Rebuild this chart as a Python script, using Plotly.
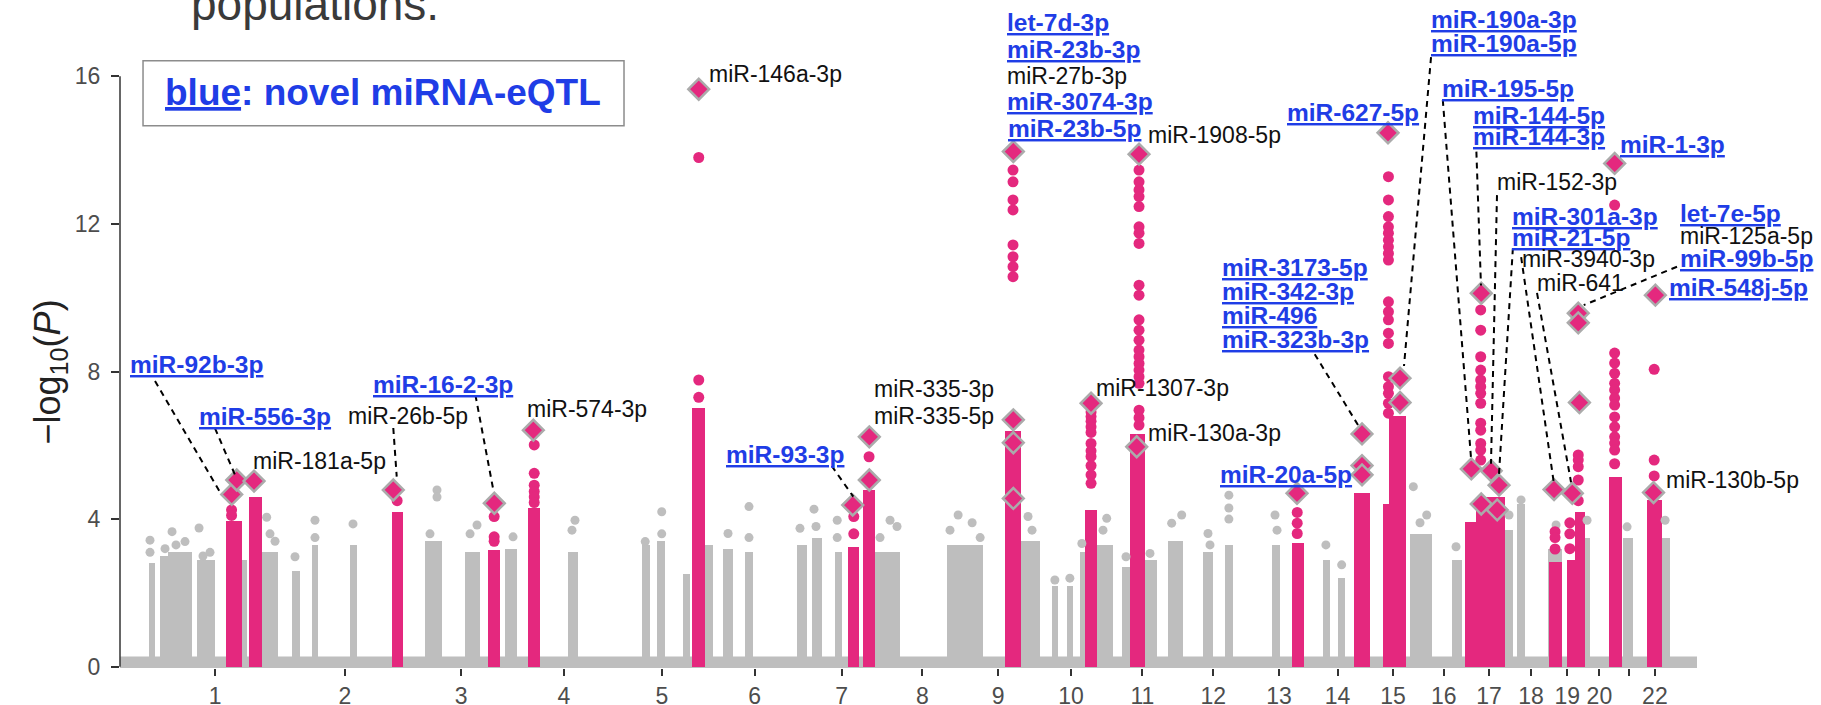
import plotly.graph_objects as go

# ---------------- data (positions in genome-wide cumulative Mb, hg19) ----------------
chrom_labels = [str(i) for i in range(1, 23)]
chrom_len_mb = [249.25, 243.20, 198.02, 191.15, 180.92, 171.12, 159.14, 146.36, 141.21, 135.53, 135.01,
                133.85, 115.17, 107.35, 102.53, 90.35, 81.20, 78.08, 59.13, 63.03, 48.13, 51.30]

# dense gray (non-significant) SNP columns: start, end (Mb), dense top (-log10 P)
gray_start = [0, 20.3, 35.5, 58.3, 89.9, 105.6, 175.2, 213.2, 270, 308, 380.6, 522.9, 598.7, 674.6, 794.6,
              933.8, 962.3, 1012.7, 1053.9, 1088.6, 1129.7, 1227.8, 1256.2, 1300.4, 1376.3, 1512.2, 1652.6,
              1711.4, 1739.8, 1765.1, 1796.8, 1844.2, 1888.4, 1931.7, 1998.4, 2040.1, 2128.6, 2225.4, 2254.9,
              2391, 2470, 2571.1, 2594.4, 2652.7, 2722.7, 2794.3, 2868.3]
gray_end = [10.8, 35.5, 58.3, 80.4, 105.6, 124.6, 185.3, 244.1, 285.8, 320.5, 393.3, 554.5, 627.2, 696.8, 813.6,
            949.6, 978, 1025.4, 1069.6, 1107.6, 1144.3, 1246.8, 1275.2, 1313.1, 1423.7, 1581.7, 1689.2,
            1723.9, 1752.4, 1774.6, 1828.3, 1859.9, 1910.6, 1960.2, 2017.4, 2055.3, 2144.4, 2239.2, 2267.6,
            2432.7, 2489, 2586.3, 2608.1, 2679.2, 2732.2, 2814.4, 2884.1]
gray_top = [2.8, 3.0, 3.1, 3.1, 2.9, 2.9, 2.9, 3.1, 2.6, 3.3, 3.3, 3.4, 3.1, 3.2, 3.1,
            3.3, 3.4, 2.5, 3.3, 3.2, 3.1, 3.3, 3.5, 3.1, 3.1, 3.3, 3.4,
            2.2, 2.2, 3.1, 3.3, 2.7, 2.9, 3.4, 3.1, 3.3, 3.3, 2.9, 2.4,
            3.6, 2.9, 3.7, 4.4, 3.2, 3.5, 3.5, 3.5]

# individual gray SNPs above the dense columns
gray_dot_x = [1.3, 1.3, 43.1, 29.8, 67.7, 50.6, 94.3, 101.8, 115.1, 222.6, 228.9, 238.4, 276.3, 314.2, 314.2,
              386.3, 545.6, 545.6, 532.3, 621.5, 608.3, 689.8, 807.3, 801.6, 940.5, 971.8, 971.8, 1097.5,
              1137.3, 1137.3, 1234, 1260.6, 1264.4, 1304.6, 1304.6, 1404.8, 1418, 1385.8, 1533.9, 1560.5,
              1518.5, 1575.7, 1666.5, 1674.1, 1717.4, 1745.8, 1768.6, 1815.7, 1808.7, 1852.3, 1897.8, 1957.9,
              1938.9, 2007.8, 2011.6, 2047.4, 2047.4, 2047.4, 2134.9, 2138.7, 2231.4, 2261.3, 2397.2, 2422.6,
              2409.9, 2478.2, 2578.7, 2601.5, 2667.9, 2726.7, 2802.6, 2874.7]
gray_dot_y = [3.43, 3.1, 3.66, 3.2, 3.39, 3.3, 3.76, 3.0, 3.1, 4.05, 3.6, 3.4, 2.98, 3.97, 3.5,
              3.87, 4.79, 4.6, 3.6, 3.84, 3.6, 3.52, 3.97, 3.7, 3.39, 4.2, 3.6, 3.61,
              4.34, 3.5, 3.75, 4.27, 3.8, 3.97, 3.5, 3.97, 3.8, 3.5, 4.11, 3.9,
              3.7, 3.5, 4.07, 3.7, 2.35, 2.4, 3.34, 4.02, 3.7, 2.98, 3.07, 4.11,
              3.89, 3.61, 3.3, 4.65, 4.0, 4.3, 4.11, 3.7, 3.3, 2.76, 4.88, 4.11,
              3.9, 3.25, 4.11, 4.52, 3.84, 3.97, 3.79, 3.97]

# dense pink (miRNA-eQTL) SNP columns
pink_start = [145.5, 189.1, 459.7, 642.9, 718.8, 1028.6, 1325.6, 1354.1, 1622.8, 1774.6, 1859.9, 2166.6,
              2283.8, 2339.1, 2352, 2495.2, 2517, 2654.5, 2688, 2704, 2768.9, 2841]
pink_end = [175.2, 213.2, 481.1, 665.1, 741, 1053.9, 1346.5, 1376.3, 1652.6, 1796.8, 1888.4, 2189.5,
            2315.1, 2352, 2383.3, 2517, 2571.1, 2678.6, 2704, 2722.7, 2792.4, 2868.3]
pink_top = [3.95, 4.6, 4.2, 3.16, 4.3, 7.0, 3.25, 4.79, 6.4, 4.25, 6.3, 3.34,
            4.7, 4.4, 6.8, 3.93, 4.6, 2.85, 2.9, 4.2, 5.15, 4.52]

# individual pink SNPs above the dense columns
pink_dot_x = ([156] * 2 + [470] + [654] * 3 + [730] * 6 + [1042] * 3 + [1336] * 2 + [1365] + [1638] * 8
              + [1786] * 11 + [1877] * 22 + [2177] * 3 + [2350] * 19 + [2525] * 13 + [2666] * 3
              + [2694] * 3 + [2710] * 5 + [2779] * 14 + [2854] * 3)
pink_dot_y = ([4.25, 4.1] + [4.5] + [4.07, 3.52, 3.4] + [6.01, 5.24, 4.92, 4.75, 4.6, 4.45]
              + [13.8, 7.77, 7.3] + [4.07, 3.6] + [5.69]
              + [13.46, 13.14, 12.65, 12.38, 11.43, 11.11, 10.84, 10.57]
              + [6.9, 6.78, 6.65, 6.5, 6.35, 6.05, 5.85, 5.7, 5.45, 5.2, 4.97]
              + [13.46, 13.14, 12.92, 12.74, 12.47, 11.92, 11.75, 11.47, 10.34, 10.07, 9.4, 9.12, 8.85,
                 8.58, 8.4, 8.22, 8.04, 7.86, 7.68, 6.95, 6.75, 6.55]
              + [4.18, 3.89, 3.61]
              + [13.28, 12.65, 12.2, 11.92, 11.75, 11.56, 11.38, 11.2, 11.02, 9.89, 9.62, 9.4, 9.04, 8.76,
                 7.86, 7.59, 7.41, 7.14, 6.87]
              + [9.67, 9.12, 8.4, 8.04, 7.77, 7.59, 7.41, 7.14, 6.6, 6.41, 6.05, 5.87, 5.6]
              + [3.66, 3.5, 3.19]
              + [3.2, 3.6, 3.9]
              + [5.74, 5.6, 5.42, 5.06, 4.5]
              + [12.51, 8.5, 8.23, 7.95, 7.68, 7.5, 7.28, 7.09, 6.77, 6.5, 6.23, 6.06, 5.87, 5.5]
              + [8.06, 5.6, 5.17])

# lead SNPs (diamonds)
lead_x = [156.3, 165.8, 198.6, 462.7, 654.3, 728.3, 1042, 1334, 1365.5, 1365.5, 1638.6, 1638.6, 1638.6,
          1638.6, 1786, 1877, 1872.6, 2176.6, 2299.9, 2299.9, 2299.9, 2349.2, 2372, 2372, 2507.2, 2544.8,
          2559.8, 2526, 2556.3, 2526, 2664.1, 2698.7, 2712.2, 2710, 2710, 2779.1, 2852.7, 2856.3]
lead_y = [4.67, 5.06, 5.03, 4.79, 4.43, 6.41, 15.65, 4.38, 6.23, 5.06, 13.96, 6.69, 6.07,
          4.56, 7.14, 13.89, 5.96, 4.7, 6.31, 5.45, 5.2, 14.47, 7.82, 7.16, 5.36, 5.31,
          4.92, 4.41, 4.25, 10.12, 4.8, 4.7, 7.16, 9.58, 9.32, 13.64, 4.72, 10.07]

# miRNA labels: name, x (Mb), y (-log10 P), novel?
label_names = ["miR-92b-3p", "miR-556-3p", "miR-181a-5p", "miR-26b-5p", "miR-16-2-3p", "miR-574-3p",
               "miR-146a-3p", "let-7d-3p", "miR-23b-3p", "miR-27b-3p", "miR-3074-3p", "miR-23b-5p",
               "miR-1908-5p", "miR-335-3p", "miR-335-5p", "miR-93-3p", "miR-1307-3p", "miR-130a-3p",
               "miR-20a-5p", "miR-3173-5p", "miR-342-3p", "miR-496", "miR-323b-3p", "miR-627-5p",
               "miR-190a-3p", "miR-190a-5p", "miR-195-5p", "miR-144-5p", "miR-144-3p", "miR-1-3p",
               "miR-152-3p", "miR-301a-3p", "miR-21-5p", "miR-3940-3p", "miR-641", "let-7e-5p",
               "miR-125a-5p", "miR-99b-5p", "miR-548j-5p", "miR-130b-5p"]
label_x = [-40.4, 90.5, 192.9, 373.0, 420.5, 712.5,
           1057.7, 1622.8, 1622.8, 1622.8, 1622.8, 1624.5,
           1890.2, 1370.6, 1370.6, 1089.9, 1791.6, 1890.2,
           2026.8, 2030.6, 2030.6, 2030.6, 2030.6, 2153.9,
           2427.0, 2427.0, 2447.8, 2506.6, 2506.6, 2785.4,
           2552.1, 2580.6, 2580.6, 2599.6, 2628.0, 2899.2,
           2899.2, 2899.2, 2878.4, 2872.7]
label_y = [8.18, 6.79, 5.57, 6.79, 7.66, 6.98,
           16.06, 17.47, 16.73, 16.01, 15.32, 14.59,
           14.41, 7.53, 6.79, 5.74, 7.55, 6.33,
           5.2, 10.83, 10.18, 9.53, 8.88, 15.03,
           17.53, 16.9, 15.68, 14.95, 14.36, 14.14,
           13.14, 12.19, 11.62, 11.05, 10.4, 12.29,
           11.67, 11.05, 10.29, 5.06]
label_novel = [1, 1, 0, 0, 1, 0,
               0, 1, 1, 0, 1, 1,
               0, 0, 0, 1, 0, 0,
               1, 1, 1, 1, 1, 1,
               1, 1, 1, 1, 1, 1,
               0, 1, 1, 0, 0, 1,
               0, 1, 1, 0]

# dashed leader lines: x0, y0, x1, y1
leaders = [(10.8, 7.74, 134.1, 4.73), (124.6, 6.46, 162.5, 5.2), (462.7, 6.47, 469.2, 5.15),
           (618.5, 7.36, 652.4, 4.79), (1294.2, 5.44, 1335.1, 4.61), (2210.2, 8.47, 2292.3, 6.55),
           (2430.8, 16.52, 2379.5, 8.15), (2453.1, 15.36, 2506.6, 5.66), (2516.8, 13.96, 2525.5, 10.33),
           (2555.9, 12.78, 2544.5, 5.5), (2586.0, 11.34, 2559.6, 5.2), (2601.7, 11.1, 2663.5, 5.0),
           (2631.8, 10.13, 2696.3, 5.0), (2897.3, 10.84, 2720.4, 9.8)]

# ---------------- figure ----------------
GRAY = "#BEBEBE"
PINK = "#E4287E"
BLUE = "#1F3DE6"
FONT = "Liberation Sans, Arial, Helvetica, sans-serif"
Y_RANGE = [-0.035, 16.605]
X_RANGE = [-55.6, 2935.2]


def ypaper(v):
    return (v - Y_RANGE[0]) / (Y_RANGE[1] - Y_RANGE[0])


offsets = []
acc = 0.0
for L in chrom_len_mb:
    offsets.append(acc)
    acc += L
centers = [o + L / 2 for o, L in zip(offsets, chrom_len_mb)]
ticktext = [c if c != "21" else "" for c in chrom_labels]

fig = go.Figure()
fig.add_trace(go.Bar(x=[(a + b) / 2 for a, b in zip(gray_start, gray_end)],
                     y=gray_top, width=[b - a for a, b in zip(gray_start, gray_end)],
                     marker=dict(color=GRAY, line=dict(width=0)), hoverinfo="skip"))
fig.add_trace(go.Scatter(x=gray_dot_x, y=gray_dot_y, mode="markers",
                         marker=dict(size=9, color=GRAY), hoverinfo="skip"))
fig.add_trace(go.Bar(x=[(a + b) / 2 for a, b in zip(pink_start, pink_end)],
                     y=pink_top, width=[b - a for a, b in zip(pink_start, pink_end)],
                     marker=dict(color=PINK, line=dict(width=0)), hoverinfo="skip"))
fig.add_trace(go.Scatter(x=pink_dot_x, y=pink_dot_y, mode="markers",
                         marker=dict(size=11, color=PINK), hoverinfo="skip"))
fig.add_trace(go.Scatter(x=lead_x, y=lead_y, mode="markers",
                         marker=dict(symbol="diamond", size=16, color=PINK,
                                     line=dict(color="#ABABAB", width=2.5)), hoverinfo="skip"))

shapes = [
    # dense band of SNPs at -log10 P ~ 0
    dict(type="rect", xref="paper", x0=0, x1=1, yref="y", y0=-0.04, y1=0.28,
         fillcolor=GRAY, line=dict(width=0), layer="below"),
    # y axis line (0 to 16)
    dict(type="line", xref="paper", x0=0, x1=0, yref="y", y0=0, y1=16,
         line=dict(color="#333333", width=1.5)),
    # legend box
    dict(type="rect", xref="paper", yref="paper", x0=0.0146, x1=0.3196, y0=0.883, y1=0.989,
         fillcolor="white", line=dict(color="#8C8C8C", width=1.5)),
]
for x0, y0, x1, y1 in leaders:
    shapes.append(dict(type="line", x0=x0, y0=y0, x1=x1, y1=y1,
                       line=dict(color="black", width=2, dash="6px,5px")))

annotations = []
for name, x, y, nov in zip(label_names, label_x, label_y, label_novel):
    if nov:
        txt = f"<b><u>{name}</u></b>"
        col = BLUE
        size = 24.5
    else:
        txt = name
        col = "#111111"
        size = 23
    annotations.append(dict(x=x, xref="x", y=ypaper(y), yref="paper", text=txt, showarrow=False,
                            xanchor="left", yanchor="middle",
                            font=dict(size=size, color=col, family=FONT)))

annotations.append(dict(xref="paper", yref="paper", x=0.1668, y=0.9368,
                        text="<b><u>blue</u>: novel miRNA-eQTL</b>", showarrow=False,
                        xanchor="center", yanchor="middle",
                        font=dict(size=37, color=BLUE, family=FONT)))
annotations.append(dict(xref="paper", yref="paper", x=-0.0444, y=ypaper(8),
                        text="−log<sub>10</sub>(<i>P</i>)", showarrow=False, textangle=-90,
                        xanchor="center", yanchor="middle",
                        font=dict(size=36, color="#222222", family=FONT)))
annotations.append(dict(xref="paper", yref="paper", x=0.0437, y=1.082,
                        text="populations.", showarrow=False, xanchor="left", yanchor="middle",
                        font=dict(size=46, color="#3a3a3a", family=FONT)))

fig.update_layout(
    width=1821, height=705,
    margin=dict(l=120, r=124, t=54, b=37, autoexpand=False),
    plot_bgcolor="white", paper_bgcolor="white",
    showlegend=False, barmode="overlay", bargap=0,
    shapes=shapes, annotations=annotations,
    xaxis=dict(range=X_RANGE, tickvals=centers, ticktext=ticktext, automargin=False,
               ticks="outside", ticklen=7, tickwidth=1.5, tickcolor="#333333",
               showgrid=False, zeroline=False, showline=False,
               tickfont=dict(size=23, color="#4d4d4d", family=FONT)),
    yaxis=dict(range=Y_RANGE, tickvals=[0, 4, 8, 12, 16], automargin=False,
               ticks="outside", ticklen=8, tickwidth=1.5, tickcolor="#333333",
               showgrid=False, zeroline=False, showline=False, ticklabelstandoff=6,
               tickfont=dict(size=23, color="#4d4d4d", family=FONT)),
)

# remove the default 8px page margin so the 1821x705 figure fills the window exactly
fig.write_html("out.html", config={"displayModeBar": False},
               post_script="document.body.style.margin='0px';")
